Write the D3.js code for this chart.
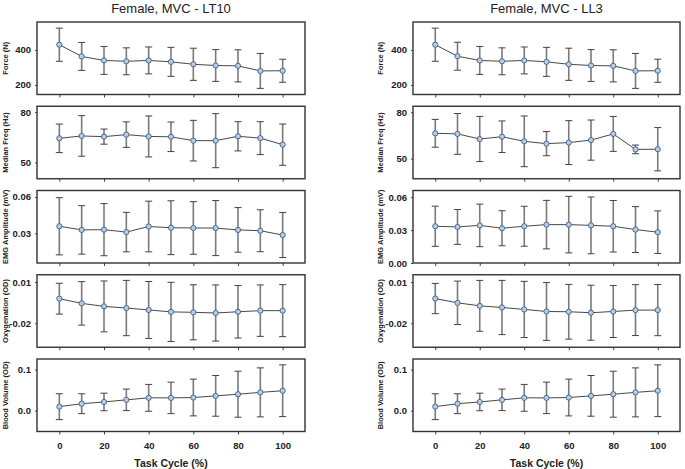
<!DOCTYPE html>
<html>
<head>
<meta charset="utf-8">
<script src="https://cdn.jsdelivr.net/npm/d3@7"></script>
<style>
  body { margin: 0; background: #fff; }
  svg { font-family: "Liberation Sans", Arial, sans-serif; }
</style>
</head>
<body>
<svg id="chart" width="685" height="469"></svg>
<script>
// task cycle positions (%)
let cycle = [0, 10, 20, 30, 40, 50, 60, 70, 80, 90, 100];
let xTicks = [0, 20, 40, 60, 80, 100];
let titles = ['Female, MVC - LT10', 'Female, MVC - LL3'];
let yTitles = ['Force (N)', 'Median Freq (Hz)', 'EMG Amplitude (mV)', 'Oxygenation (OD)', 'Blood Volume (OD)'];

// means and error half-widths, LT10
let forceLT10 = [430, 363, 340, 335, 340, 332, 318, 311, 309, 280, 281];
let forceLT10Err = [95, 80, 80, 77, 77, 83, 92, 91, 92, 100, 66];
let freqLT10 = [64.3, 65.7, 65.3, 66.5, 65.4, 65.2, 62.9, 62.9, 65.5, 64.4, 60.5];
let freqLT10Err = [8.5, 12.1, 4.5, 7.6, 12.2, 8.8, 12.1, 16.1, 8.7, 9.8, 12.3];
let emgLT10 = [0.0358, 0.0328, 0.0330, 0.0310, 0.0356, 0.0346, 0.0344, 0.0343, 0.0328, 0.0321, 0.0286];
let emgLT10Err = [0.0236, 0.0200, 0.0215, 0.0163, 0.0209, 0.0222, 0.0217, 0.0227, 0.0184, 0.0173, 0.0186];
let oxyLT10 = [-0.0021, -0.0055, -0.0077, -0.0089, -0.0103, -0.0117, -0.0120, -0.0125, -0.0116, -0.0108, -0.0108];
let oxyLT10Err = [0.0112, 0.0158, 0.0185, 0.0201, 0.0207, 0.0215, 0.0200, 0.0204, 0.0191, 0.0187, 0.0189];
let bvLT10 = [0.0097, 0.0169, 0.0212, 0.0263, 0.0312, 0.0311, 0.0320, 0.0360, 0.0400, 0.0445, 0.0485];
let bvLT10Err = [0.0315, 0.0242, 0.0214, 0.0262, 0.0327, 0.0383, 0.0448, 0.0496, 0.0560, 0.0597, 0.0630];

// means and error half-widths, LL3
let forceLL3 = [430, 364, 340, 335, 340, 332, 318, 311, 309, 280, 281];
let forceLL3Err = [95, 80, 80, 77, 77, 83, 92, 91, 92, 100, 66];
let freqLL3 = [66.4, 66.0, 62.7, 64.2, 61.2, 59.7, 60.4, 62.0, 66.0, 56.0, 56.1];
let freqLL3Err = [9.0, 13.2, 14.6, 10.2, 16.4, 7.8, 14.2, 13.0, 11.3, 2.8, 14.0];
let emgLL3 = [0.0335, 0.0329, 0.0343, 0.0317, 0.0335, 0.0350, 0.0350, 0.0343, 0.0335, 0.0305, 0.0281];
let emgLL3Err = [0.0183, 0.0159, 0.0194, 0.0160, 0.0182, 0.0221, 0.0258, 0.0259, 0.0235, 0.0209, 0.0194];
let oxyLL3 = [-0.0020, -0.0051, -0.0073, -0.0085, -0.0099, -0.0114, -0.0116, -0.0123, -0.0114, -0.0104, -0.0104];
let oxyLL3Err = [0.0110, 0.0158, 0.0185, 0.0197, 0.0204, 0.0210, 0.0199, 0.0200, 0.0189, 0.0185, 0.0186];
let bvLL3 = [0.0097, 0.0169, 0.0212, 0.0263, 0.0312, 0.0311, 0.0320, 0.0360, 0.0400, 0.0445, 0.0485];
let bvLL3Err = [0.0315, 0.0242, 0.0214, 0.0262, 0.0327, 0.0383, 0.0448, 0.0496, 0.0560, 0.0597, 0.0630];

// y ticks per row and their labels (left, right)
let yTicksLT10 = [[200, 400], [50, 80], [0.03, 0.06], [0.01, -0.02], [0.0, 0.1]];
let yLabelsLT10 = [['200', '400'], ['50', '80'], ['0.03', '0.06'], ['0.01', '-0.02'], ['0.0', '0.1']];
let yTicksLL3 = [[200, 400], [50, 80], [0.00, 0.03, 0.06], [0.01, -0.02], [0.0, 0.1]];
let yLabelsLL3 = [['200', '400'], ['50', '80'], ['0.00', '0.03', '0.06'], ['0.01', '-0.02'], ['0.0', '0.1']];

let columns = [
  {
    title: titles[0],
    left: 37, right: 305, yTitleX: 5,
    ticks: yTicksLT10, labels: yLabelsLT10,
    rows: [[forceLT10, forceLT10Err], [freqLT10, freqLT10Err], [emgLT10, emgLT10Err], [oxyLT10, oxyLT10Err], [bvLT10, bvLT10Err]],
    domains: [[145, 560], [40.2, 83.4], [0.0055, 0.0653], [-0.0374, 0.0153], [-0.0508, 0.1258]]
  },
  {
    title: titles[1],
    left: 413, right: 680, yTitleX: 380,
    ticks: yTicksLL3, labels: yLabelsLL3,
    rows: [[forceLL3, forceLL3Err], [freqLL3, freqLL3Err], [emgLL3, emgLL3Err], [oxyLL3, oxyLL3Err], [bvLL3, bvLL3Err]],
    domains: [[145, 560], [37.0, 83.9], [0.0, 0.0661], [-0.0374, 0.0153], [-0.0508, 0.1258]]
  }
];

let panelTop = 22,
    panelStep = 84.25,
    panelHeight = 72.5;

let svg = d3.select('#chart');

let styleTickText = function (sel) {
  sel
    .style('font-size', '9.5px')
    .style('font-weight', 'bold')
    .style('fill', '#222')
    .style('font-family', '"Liberation Sans", Arial, sans-serif');
}

columns.forEach(function (col) {
  let x = d3.scaleLinear()
    .domain([-10, 110])
    .range([col.left, col.right]);

  let cx = (col.left + col.right) / 2;

  svg.append('text')
    .attr('x', cx)
    .attr('y', 13)
    .attr('text-anchor', 'middle')
    .style('font-size', '13px')
    .style('fill', '#222')
    .text(col.title);

  col.rows.forEach(function (row, i) {
    let top = panelTop + i * panelStep,
        bottom = top + panelHeight,
        means = row[0],
        errs = row[1],
        tickLabels = col.labels[i];

    let y = d3.scaleLinear()
      .domain(col.domains[i])
      .range([bottom, top]);

    // y title goes first so the tick labels sit on top of it
    svg.append('text')
      .attr('transform', 'translate(' + col.yTitleX + ',' + ((top + bottom) / 2) + ') rotate(-90)')
      .attr('text-anchor', 'middle')
      .attr('dominant-baseline', 'central')
      .style('font-size', '7.5px')
      .style('font-weight', 'bold')
      .style('fill', '#222')
      .text(yTitles[i]);

    let g = svg.append('g');

    // x ticks under every panel, labels only on the last row
    let xAxis = d3.axisBottom(x)
      .tickValues(xTicks)
      .tickSize(3)
      .tickPadding(8)
      .tickFormat(i === 4 ? d3.format('d') : '');

    let xg = g.append('g')
      .attr('transform', 'translate(0,' + bottom + ')')
      .call(xAxis);
    xg.select('.domain').remove();
    xg.selectAll('line').attr('stroke', '#444');
    xg.selectAll('text').call(styleTickText);

    let yAxis = d3.axisLeft(y)
      .tickValues(col.ticks[i])
      .tickSize(2)
      .tickPadding(4)
      .tickFormat(function (d, k) { return tickLabels[k]; });

    let yg = g.append('g')
      .attr('transform', 'translate(' + col.left + ',0)')
      .call(yAxis);
    yg.select('.domain').remove();
    yg.selectAll('line').attr('stroke', '#444');
    yg.selectAll('text').call(styleTickText);

    // error bars
    let bars = g.selectAll('.err')
      .data(cycle)
      .enter()
      .append('g')
      .attr('class', 'err');

    bars.append('line')
      .attr('x1', function (d) { return x(d); })
      .attr('x2', function (d) { return x(d); })
      .attr('y1', function (d, j) { return y(means[j] + errs[j]); })
      .attr('y2', function (d, j) { return y(means[j] - errs[j]); })
      .attr('stroke', '#7a7a7a')
      .attr('stroke-width', 1.6);

    [1, -1].forEach(function (sign) {
      bars.append('line')
        .attr('x1', function (d) { return x(d) - 3.5; })
        .attr('x2', function (d) { return x(d) + 3.5; })
        .attr('y1', function (d, j) { return y(means[j] + sign * errs[j]); })
        .attr('y2', function (d, j) { return y(means[j] + sign * errs[j]); })
        .attr('stroke', '#444')
        .attr('stroke-width', 1);
    });

    let line = d3.line()
      .x(function (d) { return x(d); })
      .y(function (d, j) { return y(means[j]); });

    g.append('path')
      .datum(cycle)
      .attr('d', line)
      .attr('fill', 'none')
      .attr('stroke', '#333')
      .attr('stroke-width', 0.9);

    g.selectAll('.pt')
      .data(cycle)
      .enter()
      .append('circle')
      .attr('class', 'pt')
      .attr('cx', function (d) { return x(d); })
      .attr('cy', function (d, j) { return y(means[j]); })
      .attr('r', 2.6)
      .attr('fill', '#b7cde6')
      .attr('stroke', '#3f5f86')
      .attr('stroke-width', 0.9);

    // panel frame
    g.append('rect')
      .attr('x', col.left)
      .attr('y', top)
      .attr('width', col.right - col.left)
      .attr('height', panelHeight)
      .attr('fill', 'none')
      .attr('stroke', '#333')
      .attr('stroke-width', 1.4);
  });

  svg.append('text')
    .attr('x', x(50))
    .attr('y', 467)
    .attr('text-anchor', 'middle')
    .style('font-size', '10.5px')
    .style('font-weight', 'bold')
    .style('fill', '#222')
    .text('Task Cycle (%)');
});
</script>
</body>
</html>
